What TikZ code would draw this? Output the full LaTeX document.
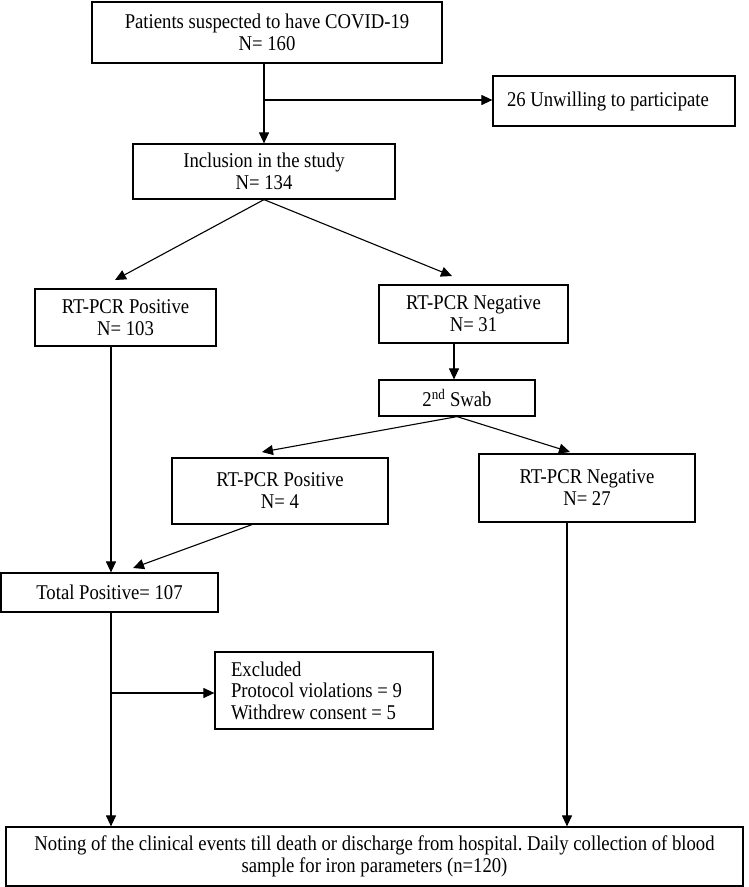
\documentclass[tikz,border=0pt]{standalone}
\usepackage{fontspec}
\setmainfont{Liberation Serif}[FakeStretch=0.89]
\usetikzlibrary{arrows.meta,calc}
\frenchspacing
\newcommand\natsp{\spaceskip=0pt\xspaceskip=0pt\relax}
\begin{document}
\begin{tikzpicture}[x=1pt,y=-1pt,
  box/.style={draw=black, line width=1.2pt, inner sep=0pt, align=center,
    font=\fontsize{21}{22}\selectfont},
  leftbox/.style={box, align=left},
  arr/.style={line width=1.1pt, -{Triangle[length=11pt,width=10pt]}},
  ln/.style={line width=1.1pt}]
\useasboundingbox (0,0) rectangle (749,887);

\node[box, minimum width=350pt, minimum height=61pt] (top) at (267,32.5)
  {Patients suspected to have COVID-19\\N= 160};
\node[leftbox, inner xsep=14pt, text width=214pt, minimum height=50pt] (unw) at (614,101)
  {\natsp 26 Unwilling to participate};
\node[box, minimum width=262pt, minimum height=55pt] (incl) at (264,171.5)
  {Inclusion in the study\\N= 134};
\node[box, minimum width=181pt, minimum height=57pt] (pos1) at (125.5,317.5)
  {RT-PCR Positive\\N= 103};
\node[box, minimum width=189pt, minimum height=58pt] (neg1) at (473.5,314)
  {RT-PCR Negative\\N= 31};
\node[box, minimum width=156pt, minimum height=36pt] (swab) at (457,398)
  {2\textsuperscript{nd} Swab};
\node[box, minimum width=216pt, minimum height=66pt] (pos2) at (280,491)
  {RT-PCR Positive\\N= 4};
\node[box, minimum width=216pt, minimum height=68pt] (neg2) at (587,488)
  {RT-PCR Negative\\N= 27};
\node[box, minimum width=217pt, minimum height=39pt] (tot) at (109.5,592.5)
  {Total Positive= 107};
\node[leftbox, inner xsep=16pt, text width=186pt, minimum height=77pt,
  font=\fontsize{21}{21.5}\selectfont] (excl) at (324,690.5)
  {\natsp Excluded\\Protocol violations = 9\\Withdrew consent = 5};
\node[box, minimum width=737pt, minimum height=59pt] (final) at (374.5,856.5)
  {Noting of the clinical events till death or discharge from hospital. Daily collection of blood\\sample for iron parameters (n=120)};

% helper coordinates
\coordinate (cV) at (264,0);
\coordinate (br) at (264,100);
\coordinate (tipA) at (115,280);
\coordinate (tipB) at (452,276);
\coordinate (x454) at (454,0);
\coordinate (tipC) at (262,452);
\coordinate (tipD) at (570,452);
\coordinate (xL) at (111,0);
\coordinate (tipE) at (133,568);
\coordinate (eb) at (111,693);
\coordinate (xR) at (567,0);

\draw[arr] (top.south -| cV) -- (incl.north -| cV);
\draw[arr] (br) -- (br -| unw.west);
\draw[arr] (incl.south) -- (tipA);
\draw[arr] (incl.south) -- (tipB);
\draw[arr] (neg1.south -| x454) -- (swab.north -| x454);
\draw[arr] (swab.south) -- (tipC);
\draw[arr] (swab.south) -- (tipD);
\draw[arr] (pos1.south -| xL) -- (tot.north -| xL);
\draw[arr] ($(pos2.south)+(-28,0)$) -- (tipE);
\draw[arr] (tot.south -| xL) -- (final.north -| xL);
\draw[arr] (eb) -- (eb -| excl.west);
\draw[arr] (neg2.south -| xR) -- (final.north -| xR);
\end{tikzpicture}
\end{document}
